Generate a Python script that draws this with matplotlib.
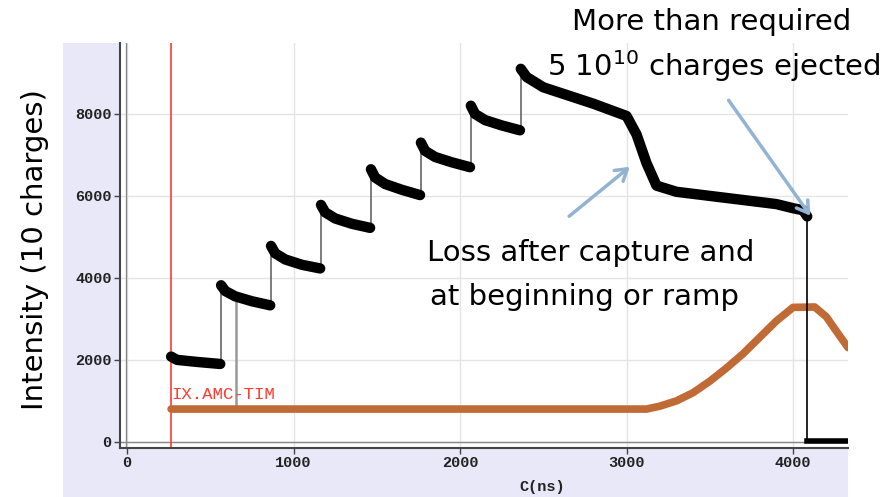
import numpy as np
import matplotlib
matplotlib.use("Agg")
import matplotlib.pyplot as plt
from matplotlib.patches import FancyArrowPatch

plt.rcParams['mathtext.fontset'] = 'custom'
plt.rcParams['mathtext.rm'] = 'DejaVu Sans'

# intensity segments (time ms, charges)
seg_t = [
    [265, 300, 420, 560],
    [565, 590, 650, 750, 860],
    [865, 890, 950, 1050, 1160],
    [1165, 1190, 1250, 1350, 1460],
    [1465, 1490, 1550, 1650, 1760],
    [1765, 1790, 1850, 1950, 2060],
    [2065, 2090, 2150, 2250, 2360],
    [2365, 2400, 2500, 2650, 2800, 3000, 3060, 3120, 3180, 3300, 3600, 3900, 4000, 4060, 4085],
]
seg_y = [
    [2080, 2000, 1950, 1900],
    [3820, 3680, 3550, 3430, 3330],
    [4780, 4600, 4450, 4320, 4230],
    [5780, 5600, 5450, 5320, 5220],
    [6650, 6450, 6290, 6150, 6020],
    [7300, 7100, 6950, 6820, 6700],
    [8200, 8000, 7850, 7720, 7600],
    [9100, 8900, 8650, 8450, 8250, 7950, 7500, 6800, 6250, 6100, 5950, 5800, 5700, 5650, 5500],
]
eject_t = 4085
after_t = [4085, 4330]
after_y = [30, 30]

# magnet / timing curve
ramp_t = [265, 3120, 3200, 3300, 3400, 3500, 3600, 3700, 3800, 3900, 4000, 4130, 4200, 4260, 4330]
ramp_y = [800, 800, 870, 1000, 1200, 1480, 1800, 2150, 2550, 2950, 3280, 3290, 3050, 2700, 2300]

marker_t = 265
gray_t = 654
gray_y = [3450, 800]

xticks = [0, 1000, 2000, 3000, 4000]
yticks = [0, 2000, 4000, 6000, 8000]

W, H = 892, 497
fig = plt.figure(figsize=(W / 100, H / 100), dpi=100)

# lavender panel behind the plot
bg = fig.add_axes([63 / W, 0, (848 - 63) / W, (497 - 43) / H], zorder=-1)
bg.set_facecolor('#E8E8F8')
bg.set_xticks([])
bg.set_yticks([])
for s in bg.spines.values():
    s.set_visible(False)

ax = fig.add_axes([120 / W, (H - 448) / H, (848 - 120) / W, (448 - 43) / H])
ax.set_facecolor('white')
ax.set_xlim(-42, 4330)
ax.set_ylim(-150, 9730)

ax.grid(True, color='#E4E4E4', lw=1)
ax.set_axisbelow(True)
for s in ['top', 'right']:
    ax.spines[s].set_visible(False)
ax.spines['left'].set_color('#444444')
ax.spines['bottom'].set_color('#444444')
ax.spines['left'].set_linewidth(1.5)
ax.spines['bottom'].set_linewidth(1.5)
ax.axvline(-8, color='#888888', lw=1)
ax.axhline(0, color='#888888', lw=1)

ax.set_xticks(xticks)
ax.set_yticks(yticks)
ax.tick_params(length=4, width=1, color='#444444', pad=2)
for lab in ax.get_xticklabels() + ax.get_yticklabels():
    lab.set_family('Liberation Mono')
    lab.set_weight('bold')
    lab.set_fontsize(11)
    lab.set_color('#222222')

# red timing marker
ax.axvline(marker_t, color='#FF3B30', lw=1.2)
ax.text(marker_t, 1150, 'IX.AMC-TIM', color='#FF3B30', family='Liberation Mono',
        fontsize=12.5, va='center', ha='left')

# ramp curve
ax.plot(ramp_t, ramp_y, color='#C06A35', lw=5.5, solid_capstyle='round', zorder=3)

# intensity trace
for i in range(len(seg_t)):
    if i > 0:
        ax.plot([seg_t[i][0], seg_t[i][0]], [seg_y[i - 1][-1], seg_y[i][0]],
                color='#666666', lw=1.2, zorder=4)
    ax.plot(seg_t[i], seg_y[i], color='black', lw=7.5, solid_capstyle='round',
            solid_joinstyle='round', zorder=5)
ax.plot([gray_t, gray_t], gray_y, color='#999999', lw=1.8, zorder=2)
ax.plot([eject_t, eject_t], [seg_y[-1][-1], 0], color='black', lw=1.2, zorder=4)
ax.plot(after_t, after_y, color='black', lw=4, zorder=5)

fig.text(542 / W, 1 - 487 / H, 'C(ns)', family='Liberation Mono', weight='bold',
         fontsize=11, ha='center', va='center', color='#222222')

fs = 21
fig.text(35 / W, 1 - 250 / H, 'Intensity (10 charges)', family='DejaVu Sans', fontsize=fs,
         rotation=90, ha='center', va='center')

fig.text(712 / W, 1 - 22 / H, 'More than required', family='DejaVu Sans', fontsize=fs,
         ha='center', va='center')
fig.text(714 / W, 1 - 66 / H, '5 10$^{10}$ charges ejected', family='DejaVu Sans', fontsize=fs,
         ha='center', va='center')
fig.text(591 / W, 1 - 253 / H, 'Loss after capture and', family='DejaVu Sans', fontsize=fs,
         ha='center', va='center')
fig.text(584 / W, 1 - 297 / H, 'at beginning or ramp', family='DejaVu Sans', fontsize=fs,
         ha='center', va='center')

arrow_col = '#93B3D3'
fig.patches.append(FancyArrowPatch(
    (567 / W, 1 - 218 / H), (632 / W, 1 - 165 / H), transform=fig.transFigure,
    arrowstyle='->,head_length=8,head_width=5', color=arrow_col, lw=2.5, zorder=10))
fig.patches.append(FancyArrowPatch(
    (727 / W, 1 - 98 / H), (812 / W, 1 - 218 / H), transform=fig.transFigure,
    arrowstyle='->,head_length=8,head_width=5', color=arrow_col, lw=2.5, zorder=10))

fig.savefig('out.png', dpi=100)
